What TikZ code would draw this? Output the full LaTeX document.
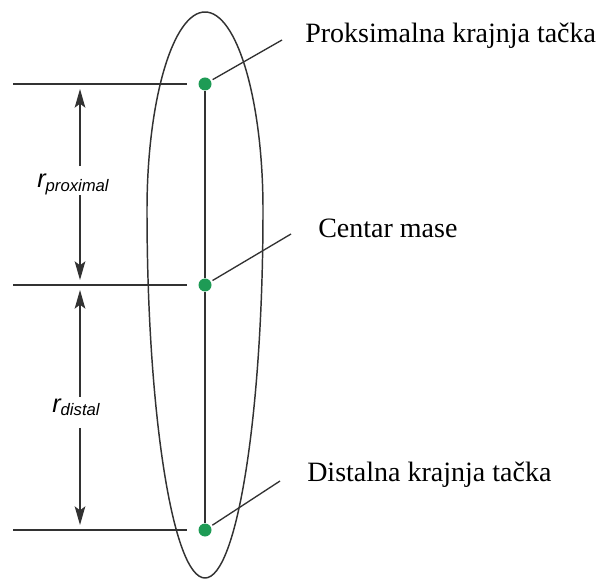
\documentclass[tikz,border=0pt]{standalone}
\usepackage{fontspec}
\setmainfont{Liberation Serif}
\newfontfamily\labelfont{Liberation Sans}
\usetikzlibrary{arrows.meta}
\definecolor{dotgreen}{RGB}{30,155,85}
\definecolor{ink}{RGB}{50,50,50}
\tikzset{
  line/.style={ink, line width=1pt},
  dim/.style={line, -{Stealth[length=14pt,width=8pt,inset=3pt]}},
  joint/.style={circle, fill=dotgreen, inner sep=0pt, minimum size=9.75pt},
  callout/.style={anchor=base west, inner sep=0pt, font=\fontsize{21}{21}\selectfont},
  rlbl/.style={anchor=base west, inner sep=0pt},
}
\newcommand{\level}[2]{
\node[joint] (#1) at (205,#2) {};
\draw[line] (13,#2) -- (187,#2);
}
\newcommand{\rsym}[1]{{\labelfont\itshape\fontsize{19}{19}\selectfont r\raisebox{-2.5pt}{\fontsize{12.5}{12.5}\selectfont #1}}}

\begin{document}
\begin{tikzpicture}[x=0.75pt,y=-0.75pt]
    \useasboundingbox (0,0) rectangle (606,580);
    \draw[line, line width=1.1pt] (147,210) arc[start angle=180, end angle=360, x radius=58, y radius=198]
        arc[start angle=0, end angle=180, x radius=58, y radius=368] -- cycle;

    \level{dotP}{84}
    \level{dotC}{285}
    \level{dotD}{530}
    \draw[line] (dotP) -- (dotC);
    \draw[line] (dotC) -- (dotD);

    \coordinate (tipP) at (80,89);
    \coordinate (tipC1) at (80,280);
    \coordinate (tipC2) at (80,290);
    \coordinate (tipD) at (80,525);
    \node[rlbl] (lblP) at (37,188) {\rsym{proximal}};
    \node[rlbl] (lblD) at (52,412) {\rsym{distal}};
    \draw[dim] ([yshift=6pt]lblP.north -| tipP) -- (tipP);
    \draw[dim] (lblP.south -| tipP) -- (tipC1);
    \draw[dim] ([yshift=1pt]lblD.north -| tipC2) -- (tipC2);
    \draw[dim] ([yshift=-9pt]lblD.south -| tipD) -- (tipD);

    \node[callout] (txtP) at (305,43) {Proksimalna krajnja tačka};
    \node[callout] (txtC) at (318,238) {Centar mase};
    \node[callout] (txtD) at (307,481) {Distalna krajnja tačka};
    \coordinate (leadP) at (282,40);
    \coordinate (leadC) at (291,234);
    \coordinate (leadD) at (280,481);
    \draw[line, shorten <=1.5pt] (dotP) -- (leadP);
    \draw[line, shorten <=1.5pt] (dotC) -- (leadC);
    \draw[line, shorten <=1.5pt] (dotD) -- (leadD);
\end{tikzpicture}
\end{document}
